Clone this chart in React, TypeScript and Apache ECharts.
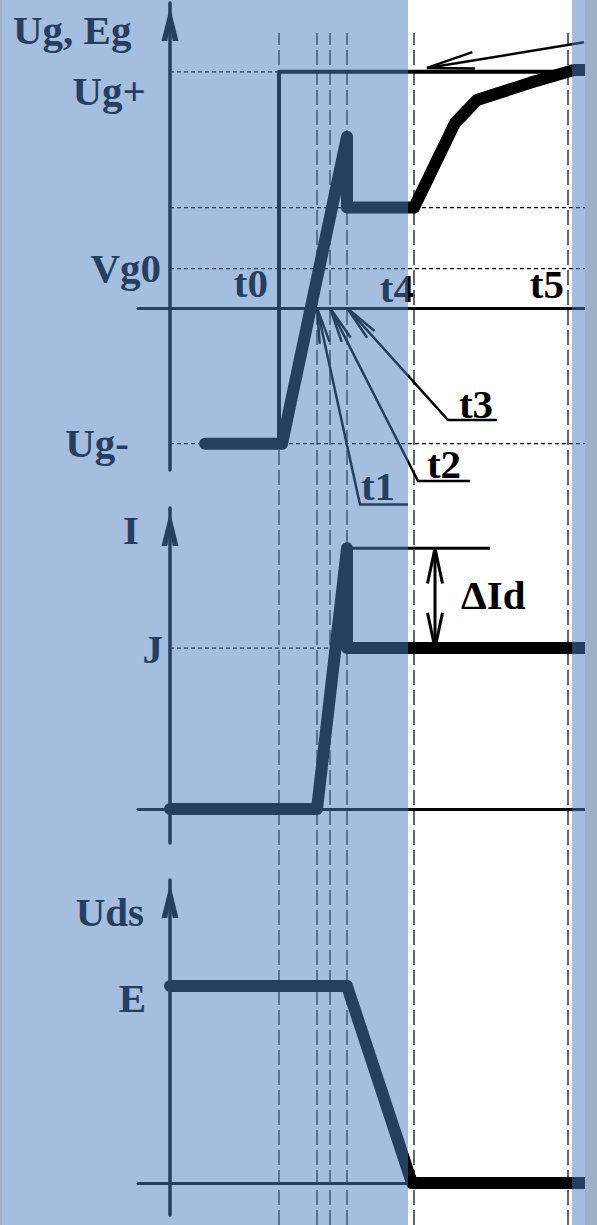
import React, { useEffect, useRef } from 'react';
import * as echarts from 'echarts';

// ---------- data (arbitrary time units on x, panel units on y) ----------
const X_RANGE = [-3.2, 41.5];
const tMarks = [10.9, 14.7, 16.0, 17.7, 24.4, 39.8]; // t0..t5
const timeLabels = ['t0', 't1', 't2', 't3', 't4', 't5'];

// Panel 1 : gate voltage Ug and drive voltage Eg
const ugRange = [-8.24, 15.5];
const ugLevels = [12.0, 5.1, 2.0, -6.9]; // Ug+, plateau, Vg0, Ug-
const ugGuideEnds = [10.9, 41.5, 41.5, 41.5];
const egPoints = [[10.9, -6.9], [10.9, 12.0], [41.5, 12.0]];
const ugPoints = [
  [3.5, -6.9], [11.2, -6.9], [17.7, 8.7], [17.7, 5.1], [24.4, 5.1],
  [28.5, 9.4], [30.7, 10.57], [36.0, 11.44], [40.4, 12.1], [41.5, 12.1],
];
// leaders: tip(x,y), elbow(x,y), end(x,y)
const leaders = [
  [14.7, 0, 19.0, -10.0, 23.8, -10.0],
  [16.0, 0, 24.8, -8.8, 30.0, -8.8],
  [17.7, 0, 27.8, -5.7, 32.7, -5.7],
];
const topArrow = [[25.7, 12.2, 41.4, 13.5]];

// Panel 2 : drain current
const iRange = [-2.11, 18.7];
const jLevel = 10;
const iPeak = 16.2;
const iPoints = [[0, 0], [14.7, 0], [17.7, iPeak], [17.7, jLevel], [41.5, jLevel]];
const jGuide = [[0, jLevel], [17.0, jLevel]];
const peakLine = [[17.7, iPeak], [32.0, iPeak]];
const deltaArrow = [[26.5, iPeak, 26.5, jLevel]];

// Panel 3 : drain-source voltage
const udsRange = [-1.62, 15.38];
const udsPoints = [[0, 10], [17.7, 10], [24.2, 0], [41.5, 0]];

// Labels
const axisNames = ['Ug, Eg', 'I', 'Uds'];
const levelLabels = ['Ug+', 'Vg0', 'Ug-', 'J', 'E'];
const deltaLabel = 'ΔId';

// ---------- layout ----------
const FONT = 'bold 41px "Liberation Serif", serif';
const textLayout: { text: string; x: number; y: number; align: string }[] = [
  { text: axisNames[0], x: 13, y: 30, align: 'left' },
  { text: levelLabels[0], x: 146, y: 91, align: 'right' },
  { text: levelLabels[1], x: 161, y: 268, align: 'right' },
  { text: levelLabels[2], x: 129, y: 443, align: 'right' },
  { text: timeLabels[0], x: 268, y: 283, align: 'right' },
  { text: timeLabels[4], x: 414, y: 288, align: 'right' },
  { text: timeLabels[5], x: 564, y: 284, align: 'right' },
  { text: timeLabels[1], x: 378, y: 486, align: 'center' },
  { text: timeLabels[2], x: 444, y: 464, align: 'center' },
  { text: timeLabels[3], x: 476, y: 404, align: 'center' },
  { text: axisNames[1], x: 131, y: 530, align: 'center' },
  { text: levelLabels[3], x: 163, y: 649, align: 'right' },
  { text: deltaLabel, x: 461, y: 595, align: 'left' },
  { text: axisNames[2], x: 144, y: 912, align: 'right' },
  { text: levelLabels[4], x: 146, y: 998, align: 'right' },
];

const ARROW = 'path://M5,0 L10,20 L6.6,20 L5,11 L3.4,20 L0,20 Z';

function makeArrow(dimCount: number, barbLen: number, barbDeg: number, width: number, twoHeads: boolean) {
  return (params: any, api: any) => {
    const pts: number[][] = [];
    for (let i = 0; i < dimCount; i += 2) pts.push(api.coord([api.value(i), api.value(i + 1)]));
    const a = (barbDeg * Math.PI) / 180;
    const head = (tip: number[], from: number[]) => {
      const dx = from[0] - tip[0];
      const dy = from[1] - tip[1];
      const len = Math.hypot(dx, dy) || 1;
      const ux = dx / len;
      const uy = dy / len;
      const rot = (s: number) => [
        tip[0] + barbLen * (ux * Math.cos(s * a) - uy * Math.sin(s * a)),
        tip[1] + barbLen * (ux * Math.sin(s * a) + uy * Math.cos(s * a)),
      ];
      return {
        type: 'polyline',
        shape: { points: [rot(1), tip, rot(-1)] },
        style: { stroke: '#000', lineWidth: width, fill: 'none', lineJoin: 'miter' },
      };
    };
    const children: any[] = [
      { type: 'polyline', shape: { points: pts }, style: { stroke: '#000', lineWidth: width, fill: 'none' } },
      head(pts[0], pts[1]),
    ];
    if (twoHeads) children.push(head(pts[pts.length - 1], pts[pts.length - 2]));
    return { type: 'group', children };
  };
}

function lineSeries(grid: number, data: number[][], width: number, type: any = 'solid', cap = 'round', z = 3) {
  return {
    type: 'line',
    xAxisIndex: grid,
    yAxisIndex: grid,
    data,
    symbol: 'none',
    silent: true,
    z,
    lineStyle: { color: '#000', width, type, cap, join: 'round' },
  };
}

const grids = [
  { left: 138, right: 12, top: 3, height: 467 },
  { left: 138, right: 12, top: 508, height: 335 },
  { left: 138, right: 12, top: 880, height: 335 },
  { left: 138, right: 12, top: 33, height: 1192 },
];

function xAxisFor(i: number) {
  return {
    type: 'value',
    gridIndex: i,
    min: X_RANGE[0],
    max: X_RANGE[1],
    show: i < 3,
    axisLine: { onZero: true, lineStyle: { color: '#000', width: 3 } },
    axisTick: { show: false },
    axisLabel: { show: false },
    splitLine: { show: false },
  };
}

function yAxisFor(i: number, range: number[]) {
  return {
    type: 'value',
    gridIndex: i,
    min: range[0],
    max: range[1],
    show: i < 3,
    axisLine: {
      show: true,
      onZero: true,
      lineStyle: { color: '#000', width: 3.5 },
      symbol: ['none', ARROW],
      symbolSize: [17, 42],
      symbolOffset: [0, -21],
    },
    axisTick: { show: false },
    axisLabel: { show: false },
    splitLine: { show: false },
  };
}

export default function App() {
  const ref = useRef<HTMLDivElement>(null);
  useEffect(() => {
    if (!ref.current) return;
    const chart = echarts.init(ref.current, undefined, { renderer: 'svg' });
    const dotted = [4, 3];
    const series: any[] = [];
    // vertical dashed time markers
    tMarks.forEach((t) => {
      series.push(lineSeries(3, [[t, 0], [t, 1]], 1.2, [15, 5], 'butt', 1));
    });
    // panel 1 guides
    ugLevels.forEach((lv, i) => {
      series.push(lineSeries(0, [[0, lv], [ugGuideEnds[i], lv]], 1.2, dotted, 'butt', 1));
    });
    series.push(lineSeries(0, egPoints, 4, 'solid', 'butt', 3));
    series.push(lineSeries(0, ugPoints, 12, 'solid', 'round', 4));
    series.push({
      type: 'custom', xAxisIndex: 0, yAxisIndex: 0, data: leaders, silent: true, clip: false, z: 5,
      renderItem: makeArrow(6, 36, 8, 2.5, false),
    });
    series.push({
      type: 'custom', xAxisIndex: 0, yAxisIndex: 0, data: topArrow, silent: true, clip: false, z: 5,
      renderItem: makeArrow(4, 48, 10, 2.5, false),
    });
    // panel 2
    series.push(lineSeries(1, jGuide, 1.2, dotted, 'butt', 1));
    series.push(lineSeries(1, peakLine, 3, 'solid', 'butt', 3));
    series.push(lineSeries(1, iPoints, 12, 'solid', 'round', 4));
    series.push({
      type: 'custom', xAxisIndex: 1, yAxisIndex: 1, data: deltaArrow, silent: true, clip: false, z: 5,
      renderItem: makeArrow(4, 36, 12, 3, true),
    });
    // panel 3
    series.push(lineSeries(2, udsPoints, 12, 'solid', 'round', 4));

    const texts = textLayout.map((t) => ({
      type: 'text',
      z: 50,
      silent: true,
      style: {
        text: t.text,
        x: t.x,
        y: t.y,
        font: FONT,
        fill: '#000',
        align: t.align,
        verticalAlign: 'middle',
      },
    }));

    chart.setOption({
      animation: false,
      backgroundColor: '#ffffff',
      grid: grids,
      xAxis: [0, 1, 2, 3].map(xAxisFor),
      yAxis: [
        yAxisFor(0, ugRange),
        yAxisFor(1, iRange),
        yAxisFor(2, udsRange),
        { ...yAxisFor(3, [0, 1]), show: false },
      ],
      series,
      graphic: [
        ...texts,
        { type: 'rect', z: 100, silent: true, shape: { x: 0, y: 0, width: 408, height: 1225 }, style: { fill: 'rgba(76,124,189,0.5)' } },
        { type: 'rect', z: 100, silent: true, shape: { x: 572, y: 0, width: 13, height: 1225 }, style: { fill: 'rgba(76,124,189,0.5)' } },
        { type: 'rect', z: 101, silent: true, shape: { x: 585, y: 0, width: 12, height: 1225 }, style: { fill: '#9db1c6' } },
        { type: 'rect', z: 101, silent: true, shape: { x: 0, y: 0, width: 2, height: 1225 }, style: { fill: '#9db1c6' } },
      ],
    });
    return () => chart.dispose();
  }, []);
  return <div ref={ref} style={{ position: 'fixed', left: 0, top: 0, width: 597, height: 1225 }} />;
}
